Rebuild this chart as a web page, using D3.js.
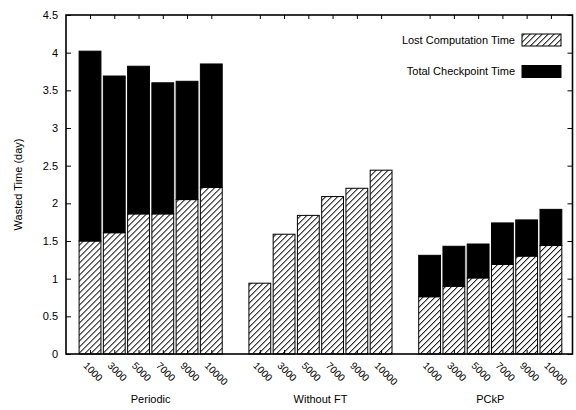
<!DOCTYPE html>
<html>
<head>
<meta charset="utf-8">
<script src="https://cdn.jsdelivr.net/npm/d3@7"></script>
<style>
  html, body { margin: 0; padding: 0; background: #fff; }
  svg { display: block; font-family: "Liberation Sans", Arial, sans-serif; }
</style>
</head>
<body>
<svg id="chart" width="576" height="410"></svg>
<script>
// Checkpoint intervals (x tick labels) and the three strategies
const categories = ["1000", "3000", "5000", "7000", "9000", "10000"];
const groups = ["Periodic", "Without FT", "PCkP"];

// Lost computation time per strategy (days)
const lostPeriodic  = [1.50, 1.61, 1.86, 1.86, 2.05, 2.21];
const lostWithoutFT = [0.94, 1.59, 1.84, 2.09, 2.20, 2.44];
const lostPCkP      = [0.76, 0.90, 1.01, 1.19, 1.30, 1.44];

// Total checkpoint time per strategy (days), stacked on top
const ckptPeriodic  = [2.52, 2.08, 1.96, 1.74, 1.57, 1.64];
const ckptWithoutFT = [0, 0, 0, 0, 0, 0];
const ckptPCkP      = [0.55, 0.53, 0.45, 0.55, 0.48, 0.48];

const yTicks = [0, 0.5, 1, 1.5, 2, 2.5, 3, 3.5, 4, 4.5];
const seriesNames = ["Lost Computation Time", "Total Checkpoint Time"];

const lostBy = [lostPeriodic, lostWithoutFT, lostPCkP];
const ckptBy = [ckptPeriodic, ckptWithoutFT, ckptPCkP];

// One row per bar; slots are laid out with one empty slot between groups
const rows = [];
groups.forEach((g, gi) => {
  categories.forEach((c, ci) => {
    rows.push({ group: g, cat: c, slot: gi * 7 + ci, lost: lostBy[gi][ci], ckpt: ckptBy[gi][ci] });
  });
});

const svg = d3.select("#chart");
const plotL = 66, plotR = 572.5, plotT = 15, plotB = 354;

const x = d3.scaleLinear().domain([-0.99, 19.89]).range([plotL, plotR]);
const y = d3.scaleLinear().domain([0, 4.5]).range([plotB, plotT]);
const barW = 0.9;

// Hatch pattern for lost computation time
const defs = svg.append("defs");
defs.append("pattern")
  .attr("id", "hatch")
  .attr("patternUnits", "userSpaceOnUse")
  .attr("width", 4.24).attr("height", 10)
  .attr("patternTransform", "rotate(45)")
  .call(p => {
    p.append("rect").attr("width", 4.24).attr("height", 10).attr("fill", "#fff");
    p.append("line").attr("x1", 0.5).attr("x2", 0.5).attr("y1", 0).attr("y2", 10)
      .attr("stroke", "#000").attr("stroke-width", 0.9);
  });

// Bars
const bars = svg.append("g");
bars.selectAll("rect.lost").data(rows).join("rect")
  .attr("class", "lost")
  .attr("x", d => x(d.slot - barW / 2))
  .attr("width", d => x(d.slot + barW / 2) - x(d.slot - barW / 2))
  .attr("y", d => y(d.lost))
  .attr("height", d => y(0) - y(d.lost))
  .attr("fill", "url(#hatch)")
  .attr("stroke", "#000").attr("stroke-width", 1);

bars.selectAll("rect.ckpt").data(rows.filter(d => d.ckpt > 0)).join("rect")
  .attr("class", "ckpt")
  .attr("x", d => x(d.slot - barW / 2))
  .attr("width", d => x(d.slot + barW / 2) - x(d.slot - barW / 2))
  .attr("y", d => y(d.lost + d.ckpt))
  .attr("height", d => y(d.lost) - y(d.lost + d.ckpt))
  .attr("fill", "#000")
  .attr("stroke", "#000").attr("stroke-width", 1);

// Axes: ticks point inward on all four sides
const slots = rows.map(d => d.slot);
const axisL = d3.axisRight(y).tickValues(yTicks).tickSize(5).tickFormat("");
const axisR = d3.axisLeft(y).tickValues(yTicks).tickSize(5).tickFormat("");
const axisT = d3.axisBottom(x).tickValues(slots).tickSize(4).tickFormat("");
const axisB = d3.axisTop(x).tickValues(slots).tickSize(4).tickFormat("");

function styleAxis(g) {
  g.select(".domain").remove();
  g.selectAll(".tick line").attr("stroke", "#000").attr("stroke-width", 1);
}
svg.append("g").attr("transform", `translate(${plotL},0)`).call(axisL).call(styleAxis);
svg.append("g").attr("transform", `translate(${plotR},0)`).call(axisR).call(styleAxis);
svg.append("g").attr("transform", `translate(0,${plotT})`).call(axisT).call(styleAxis);
svg.append("g").attr("transform", `translate(0,${plotB})`).call(axisB).call(styleAxis);

// Frame
svg.append("rect")
  .attr("x", plotL).attr("y", plotT)
  .attr("width", plotR - plotL).attr("height", plotB - plotT)
  .attr("fill", "none").attr("stroke", "#000").attr("stroke-width", 1.6);

// Y tick labels
svg.append("g").selectAll("text").data(yTicks).join("text")
  .attr("x", plotL - 8)
  .attr("y", d => y(d))
  .attr("dy", "0.35em")
  .attr("text-anchor", "end")
  .attr("font-size", 11)
  .text(d => d);

// X tick labels, rotated
svg.append("g").selectAll("text").data(rows).join("text")
  .attr("transform", d => `translate(${x(d.slot) - 2},${plotB + 7}) rotate(45)`)
  .attr("dy", "0.75em")
  .attr("text-anchor", "start")
  .attr("font-size", 10)
  .text(d => d.cat);

// Group labels centred under each cluster of bars
svg.append("g").selectAll("text").data(groups).join("text")
  .attr("x", (d, i) => (x(i * 7) + x(i * 7 + categories.length - 1)) / 2)
  .attr("y", 403)
  .attr("text-anchor", "middle")
  .attr("font-size", 11)
  .text(d => d);

// Y axis title
svg.append("text")
  .attr("transform", `translate(22,${(plotT + plotB) / 2}) rotate(-90)`)
  .attr("text-anchor", "middle")
  .attr("font-size", 11)
  .text("Wasted Time (day)");

// Legend
const legend = svg.append("g");
const legendFill = ["url(#hatch)", "#000"];
const legendY = [40, 71.5];
seriesNames.forEach((name, i) => {
  legend.append("text")
    .attr("x", 515).attr("y", legendY[i])
    .attr("dy", "0.35em")
    .attr("text-anchor", "end")
    .attr("font-size", 11)
    .text(name);
  legend.append("rect")
    .attr("x", 522).attr("y", legendY[i] - 6)
    .attr("width", 39).attr("height", 12)
    .attr("fill", legendFill[i])
    .attr("stroke", "#000").attr("stroke-width", 1);
});
</script>
</body>
</html>
